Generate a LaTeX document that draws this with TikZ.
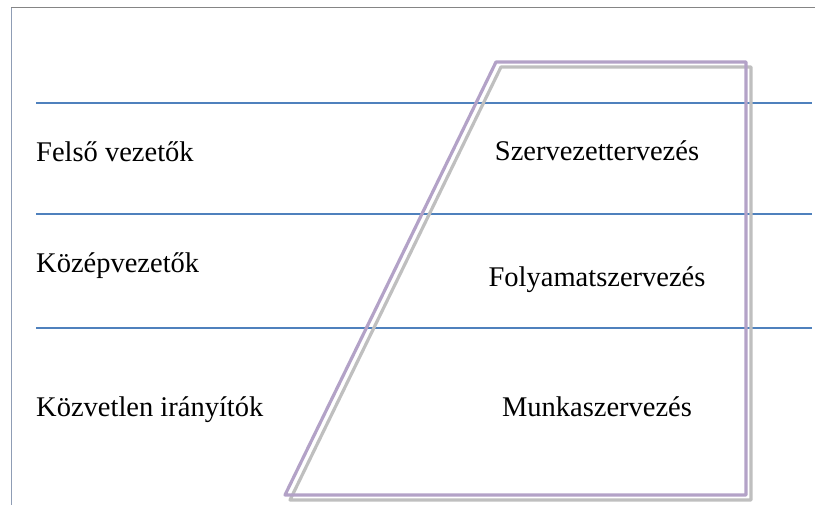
\documentclass[tikz,border=0pt]{standalone}
\usepackage{fontspec}
\setmainfont{Liberation Serif}
\usetikzlibrary{calc}

\definecolor{levelblue}{HTML}{4F81BD}
\definecolor{lilac}{HTML}{B3A2C7}
\definecolor{shadowgray}{HTML}{BFBFBF}
\definecolor{framegray}{HTML}{858585}
\definecolor{frameblue}{HTML}{8F9DB5}

\begin{document}
\begin{tikzpicture}[x=1pt, y=-1pt,
  level/.style={draw=levelblue, line width=1.4pt},
  trap/.style={line width=3.2pt, line join=round},
  lbl/.style={inner sep=0pt, font=\fontsize{28.5}{34}\selectfont}]
\useasboundingbox (0,0) rectangle (815,505);

% frame
\coordinate (f0) at (11,505);
\coordinate (f1) at (11,7);
\coordinate (f2) at (815,7);
\draw [frameblue, line width=0.9pt] (f0) -- (f1);
\draw [framegray, line width=0.9pt] (f1) -- (f2);

% level lines
\foreach \n/\y in {a/103, b/214, c/328} {
  \coordinate (\n w) at (36,\y);
  \coordinate (\n e) at (812,\y);
  \draw [level] (\n w) -- (\n e);
}

% trapezoid with its shadow
\coordinate (tl) at (496,62);
\coordinate (tr) at (746,62);
\coordinate (br) at (746,495);
\coordinate (bl) at (285,495);
\draw [trap, shadowgray] ($(bl)+(5,5)$) -- ($(tl)+(5,5)$) -- ($(tr)+(5,5)$) -- ($(br)+(5,5)$) -- cycle;
\draw [trap, lilac] (bl) -- (tl) -- (tr) -- (br) -- cycle;

% left labels
\node [lbl, anchor=base west] (top) at (36,162) {Felső vezetők};
\node [lbl, anchor=base west] (mid) at (36,273) {Középvezetők};
\node [lbl, anchor=base west] (low) at (36,417) {Közvetlen irányítók};

% right labels
\node [lbl, anchor=base] (szt) at (597,161) {Szervezettervezés};
\node [lbl, anchor=base] (fsz) at (597,287) {Folyamatszervezés};
\node [lbl, anchor=base] (msz) at (597,417) {Munkaszervezés};
\end{tikzpicture}
\end{document}
